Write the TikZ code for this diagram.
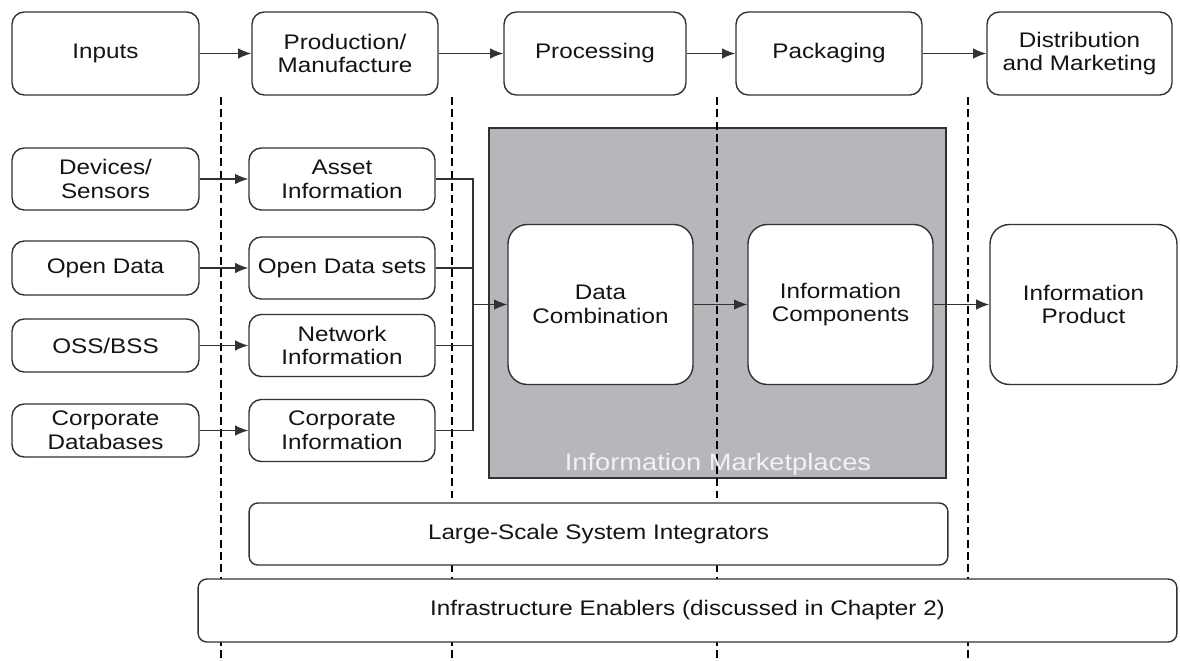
\documentclass[tikz,border=0pt]{standalone}
\usepackage{fontspec}
\setmainfont{Liberation Sans}[FakeStretch=1.15]
\usetikzlibrary{arrows.meta}
\definecolor{edge}{RGB}{50,50,50}
\definecolor{ink}{RGB}{20,20,20}
\definecolor{mkt}{RGB}{182,183,187}
\definecolor{mkttext}{RGB}{242,242,242}
\begin{document}
\begin{tikzpicture}[x=0.02cm,y=-0.02cm,
  box/.style={draw=edge, line width=0.8pt, fill=white, rounded corners=7pt, align=center, text=ink,
    font=\fontsize{12}{13.5}\selectfont, inner sep=0pt},
  bigbox/.style={box, rounded corners=11pt},
  flatbox/.style={box, rounded corners=5pt},
  arr/.style={draw=edge, line width=0.8pt, -{Latex[length=7.5pt,width=6pt]}},
  ln/.style={draw=edge, line width=0.8pt},
  sep/.style={draw=black, line width=0.6pt, dash pattern=on 4.5pt off 2.5pt}]
\useasboundingbox (0,0) rectangle (1180,660);

% information marketplace background
\node[draw=edge, fill=mkt, line width=0.8pt, minimum width=91.4mm, minimum height=70mm, inner sep=0pt] (mkt) at (717.5,303) {};

% separators
\coordinate (s1a) at (221,97);  \coordinate (s1b) at (221,660);
\coordinate (s2a) at (452,97);  \coordinate (s2b) at (452,660);
\coordinate (s3a) at (717,97);  \coordinate (s3b) at (717,660);
\coordinate (s4a) at (968,97);  \coordinate (s4b) at (968,660);
\draw[sep] (s1a) -- (s1b);
\draw[sep] (s2a) -- (s2b);
\draw[sep] (s3a) -- (s3b);
\draw[sep] (s4a) -- (s4b);

\node[text=mkttext, font=\fontsize{13.5}{15}\selectfont] (mktlabel) at (718,464) {Information Marketplaces};

% top row
\node[box, minimum width=37.4mm, minimum height=16.6mm] (inputs) at (105.5,53.5) {Inputs};
\node[box, minimum width=37.2mm, minimum height=16.6mm] (prod) at (345,53.5) {Production/\\Manufacture};
\node[box, minimum width=36.4mm, minimum height=16.6mm] (proc) at (595,53.5) {Processing};
\node[box, minimum width=37.2mm, minimum height=16.6mm] (pack) at (829,53.5) {Packaging};
\node[box, minimum width=37.0mm, minimum height=16.6mm] (dist) at (1079.5,53.5) {Distribution\\and Marketing};
\draw[arr] (inputs) -- (prod);
\draw[arr] (prod) -- (proc);
\draw[arr] (proc) -- (pack);
\draw[arr] (pack) -- (dist);

% left column
\node[box, minimum width=37.4mm, minimum height=12.4mm] (dev) at (105.5,179) {Devices/\\Sensors};
\node[box, minimum width=37.4mm, minimum height=10.8mm] (open) at (105.5,268) {Open Data};
\node[box, minimum width=37.4mm, minimum height=10.6mm] (oss) at (105.5,345.5) {OSS/BSS};
\node[box, minimum width=37.4mm, minimum height=10.6mm] (cdb) at (105.5,430.5) {Corporate\\Databases};

% middle column
\node[box, minimum width=37.2mm, minimum height=12.4mm] (asset) at (342,179) {Asset\\Information};
\node[box, minimum width=37.2mm, minimum height=12.4mm] (ods) at (342,268) {Open Data sets};
\node[box, minimum width=37.2mm, minimum height=12.4mm] (net) at (342,345.5) {Network\\Information};
\node[box, minimum width=37.2mm, minimum height=12.4mm] (cinfo) at (342,430.5) {Corporate\\Information};

\draw[arr] (dev) -- (asset);
\draw[arr] (open) -- (ods);
\draw[arr] (oss) -- (net);
\draw[arr] (cdb) -- (cinfo);

% big boxes
\node[bigbox, minimum width=37.0mm, minimum height=32mm] (dc) at (600.5,304.5) {Data\\Combination};
\node[bigbox, minimum width=37.0mm, minimum height=32mm] (ic) at (840.5,304.5) {Information\\Components};
\node[bigbox, minimum width=37.4mm, minimum height=32mm] (ip) at (1083.5,304.5) {Information\\Product};

\coordinate (bus) at (473,304.5);
\draw[ln] (asset.east) -| (bus);
\draw[ln] (ods.east) -| (bus);
\draw[ln] (net.east) -| (bus);
\draw[ln] (cinfo.east) -| (bus);
\draw[arr] (bus) -- (dc);
\draw[arr] (dc) -- (ic);
\draw[arr] (ic) -- (ip);

% bottom bars
\node[flatbox, minimum width=139.8mm, minimum height=12.4mm] (lsi) at (598.5,534) {Large-Scale System Integrators};
\node[flatbox, minimum width=195.8mm, minimum height=12.6mm] (infra) at (687.5,610.5) {Infrastructure Enablers (discussed in Chapter 2)};
\end{tikzpicture}
\end{document}
